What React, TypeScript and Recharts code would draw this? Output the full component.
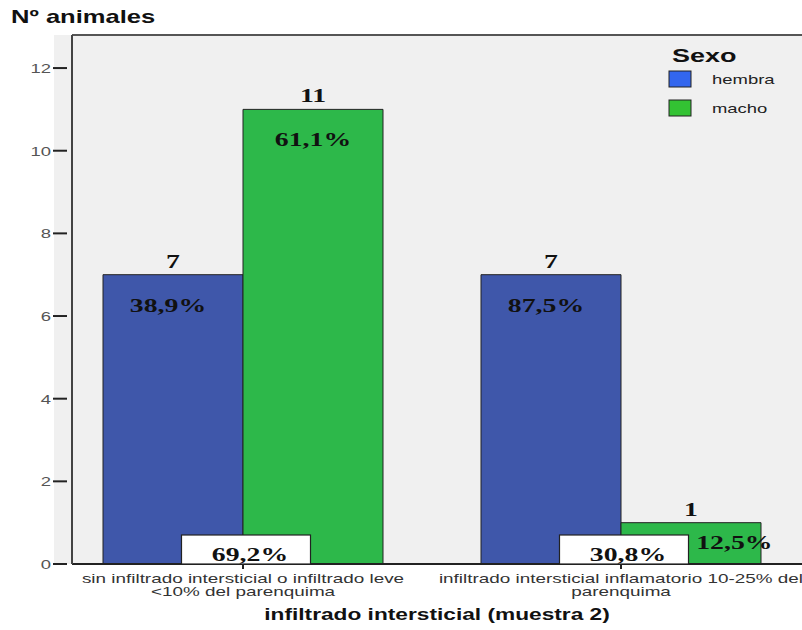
import React from 'react';
import { BarChart, Bar, XAxis, YAxis, ReferenceArea, ReferenceLine, LabelList, Legend, Label } from 'recharts';

const categories = [
  ['sin infiltrado intersticial o infiltrado leve', '<10% del parenquima'],
  ['infiltrado intersticial inflamatorio 10-25% del', 'parenquima'],
];
const hembraCounts = [7, 7];
const machoCounts = [11, 1];
const hembraPct = ['38,9%', '87,5%'];
const machoPct = ['61,1%', '12,5%'];
const categoryPct = ['69,2%', '30,8%'];
const yTicks = [0, 2, 4, 6, 8, 10, 12];

const data = categories.map((c, i) => ({
  name: i,
  hembra: hembraCounts[i],
  macho: machoCounts[i],
}));

const SX = 1.42;
const SANS = '"Liberation Sans", Arial, sans-serif';
const SERIF = '"Liberation Serif", "Times New Roman", serif';
const VIEW_W = 802;

function ST(props: any) {
  const { x, y, anchor = 'middle', size = 13, weight = 'normal', fill = '#111', family = SANS, sx = SX, children } = props;
  return (
    <text
      x={0}
      y={0}
      transform={`translate(${x} ${y}) scale(${sx} 1)`}
      textAnchor={anchor}
      fontSize={size}
      fontWeight={weight}
      fill={fill}
      fontFamily={family}
    >
      {children}
    </text>
  );
}

const YTick = (props: any) => {
  const { x, y, payload } = props;
  return (
    <g>
      <line x1={x - 19} x2={x - 5} y1={y} y2={y} stroke="#222" strokeWidth={2} />
      <ST x={x - 21} y={y + 5} anchor="end" size={13} fill="#555">{payload.value}</ST>
    </g>
  );
};

const XTick = (props: any) => {
  const { x, y, payload } = props;
  const lines = categories[payload.value] || [];
  return (
    <g>
      <line x1={x} x2={x} y1={y} y2={y + 5} stroke="#222" strokeWidth={2} />
      <ST x={x} y={y + 19} size={13.3} fill="#333">{lines[0]}</ST>
      <ST x={x} y={y + 32} size={13.3} fill="#333">{lines[1]}</ST>
    </g>
  );
};

const TopValue = (props: any) => {
  const { x, y, width, value } = props;
  return (
    <ST x={x + width / 2} y={y - 7} size={18.5} weight="bold" family={SERIF} sx={1.5}>{value}</ST>
  );
};

const makePct = (arr: string[], dx: number) => (props: any) => {
  const { x, y, width, height, index } = props;
  let cx = x + width / 2 + dx;
  let cy = y + 37;
  if (height < 60) {
    cx = x + width * 0.81;
    cy = y + height / 2 + 6;
  }
  return (
    <ST x={cx} y={cy} size={18.5} weight="bold" family={SERIF} sx={1.5}>{arr[index]}</ST>
  );
};

const CatBox = (props: any) => {
  const { x, y, height, index } = props;
  const base = y + height;
  const cx = x + 3;
  return (
    <g>
      <rect x={cx - 64.5} y={base - 29} width={129} height={29} fill="#fff" stroke="#222" strokeWidth={1.2} />
      <ST x={cx + 4} y={base - 3} size={18.5} weight="bold" family={SERIF} sx={1.5}>{categoryPct[index]}</ST>
    </g>
  );
};

const LegendBox = () => (
  <svg width={130} height={90}>
    <ST x={4} y={27} anchor="start" size={19} weight="bold" fill="#111">Sexo</ST>
    <rect x={1} y={36} width={22} height={16} fill="#3366ee" stroke="#222" strokeWidth={1} />
    <ST x={44} y={49} anchor="start" size={13} fill="#222">hembra</ST>
    <rect x={1} y={65} width={22} height={16} fill="#33c233" stroke="#222" strokeWidth={1} />
    <ST x={44} y={78} anchor="start" size={13} fill="#222">macho</ST>
  </svg>
);

export default function App() {
  return (
    <div style={{ position: 'absolute', left: 0, top: 0, width: VIEW_W, height: 630, overflow: 'hidden', background: '#fff' }}>
      <BarChart
        width={830}
        height={630}
        data={data}
        margin={{ top: 35, right: 0, bottom: 26, left: 12 }}
        barGap={0}
        barSize={140}
      >
        <ReferenceArea y1={0} y2={12.8} fill="#f0f0f0" fillOpacity={1} stroke="none" />
        <XAxis
          dataKey="name"
          type="category"
          padding={{ left: -18, right: 20 }}
          height={40}
          tickSize={0}
          tickMargin={0}
          tick={<XTick />}
          axisLine={{ stroke: '#222', strokeWidth: 2 }}
          tickLine={false}
          interval={0}
        >
          <Label
            content={(p: any) => {
              const vb = p.viewBox;
              return (
                <ST x={(vb.x + VIEW_W) / 2} y={620} size={16} weight="bold" fill="#111">
                  infiltrado intersticial (muestra 2)
                </ST>
              );
            }}
          />
        </XAxis>
        <YAxis
          width={60}
          domain={[0, 12.8]}
          ticks={yTicks}
          allowDataOverflow
          tickSize={0}
          tickMargin={0}
          tick={<YTick />}
          tickLine={false}
          axisLine={{ stroke: '#444', strokeWidth: 2 }}
        >
          <Label
            content={() => (
              <ST x={11} y={23} anchor="start" size={18} weight="bold" fill="#111">Nº animales</ST>
            )}
          />
        </YAxis>
        <ReferenceLine y={12.8} stroke="#555" strokeWidth={2} />
        <Legend
          layout="vertical"
          align="center"
          verticalAlign="middle"
          content={() => <LegendBox />}
          wrapperStyle={{ left: 668, top: 35, width: 130, height: 90 }}
        />
        <Bar dataKey="hembra" fill="#3f57aa" stroke="#222" strokeWidth={1} isAnimationActive={false}>
          <LabelList dataKey="hembra" content={<TopValue />} />
          <LabelList dataKey="hembra" content={makePct(hembraPct, -5)} />
        </Bar>
        <Bar dataKey="macho" fill="#2db84a" stroke="#222" strokeWidth={1} isAnimationActive={false}>
          <LabelList dataKey="macho" content={<TopValue />} />
          <LabelList dataKey="macho" content={CatBox} />
          <LabelList dataKey="macho" content={makePct(machoPct, 0)} />
        </Bar>
      </BarChart>
    </div>
  );
}
